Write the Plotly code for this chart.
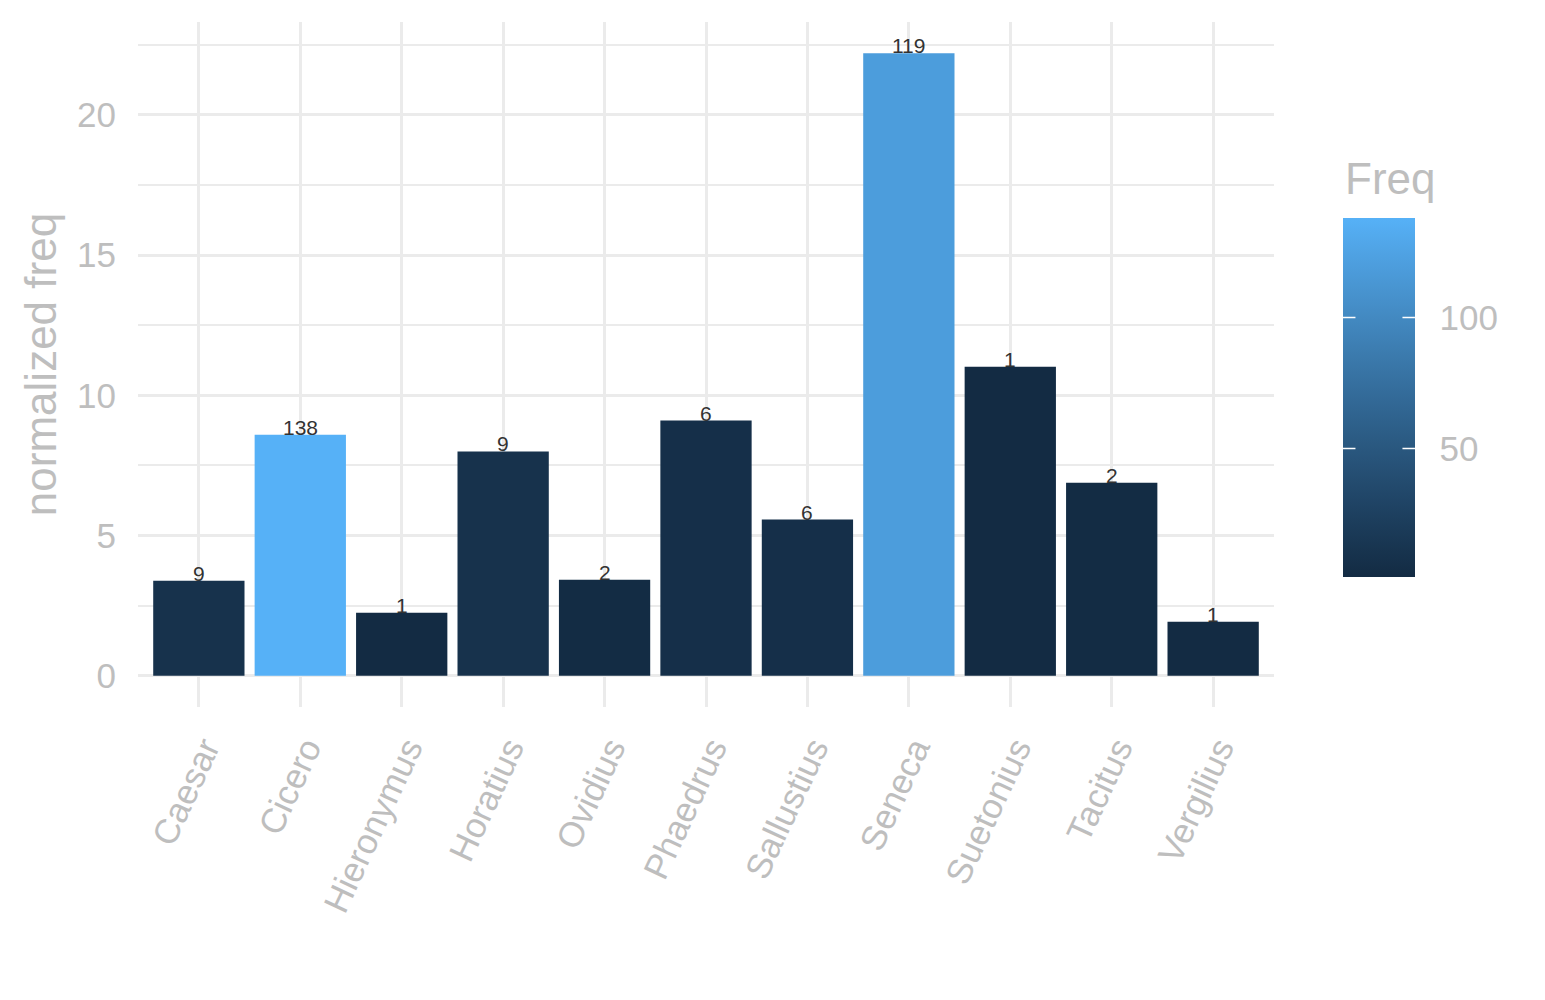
import plotly.graph_objects as go

authors = ['Caesar', 'Cicero', 'Hieronymus', 'Horatius', 'Ovidius', 'Phaedrus',
           'Sallustius', 'Seneca', 'Suetonius', 'Tacitus', 'Vergilius']
norm_freq = [3.39, 8.6, 2.25, 8.0, 3.43, 9.1, 5.57, 22.2, 11.02, 6.88, 1.93]
freq = [9, 138, 1, 9, 2, 6, 6, 119, 1, 2, 1]
cbar_ticks = [50, 100]


# ggplot-like gradient (#132B43 -> #56B1F7) interpolated in Lab space
def _to_lab(h):
    rgb = [int(h[i:i + 2], 16) / 255 for i in (1, 3, 5)]
    lin = [c / 12.92 if c <= 0.04045 else ((c + 0.055) / 1.055) ** 2.4 for c in rgb]
    x = (0.4124 * lin[0] + 0.3576 * lin[1] + 0.1805 * lin[2]) / 0.95047
    y = 0.2126 * lin[0] + 0.7152 * lin[1] + 0.0722 * lin[2]
    z = (0.0193 * lin[0] + 0.1192 * lin[1] + 0.9505 * lin[2]) / 1.08883
    f = lambda t: t ** (1 / 3) if t > 0.008856 else 7.787 * t + 16 / 116
    return (116 * f(y) - 16, 500 * (f(x) - f(y)), 200 * (f(y) - f(z)))


def _to_hex(lab):
    L, a, b = lab
    fy = (L + 16) / 116
    fx, fz = fy + a / 500, fy - b / 200
    g = lambda t: t ** 3 if t ** 3 > 0.008856 else (t - 16 / 116) / 7.787
    x, y, z = g(fx) * 0.95047, g(fy), g(fz) * 1.08883
    r = 3.2406 * x - 1.5372 * y - 0.4986 * z
    gg = -0.9689 * x + 1.8758 * y + 0.0415 * z
    bb = 0.0557 * x - 0.2040 * y + 1.0570 * z
    out = []
    for c in (r, gg, bb):
        c = 12.92 * c if c <= 0.0031308 else 1.055 * c ** (1 / 2.4) - 0.055
        out.append(max(0, min(255, round(c * 255))))
    return '#%02x%02x%02x' % tuple(out)


lo, hi = _to_lab('#132B43'), _to_lab('#56B1F7')
scale = []
for i in range(11):
    t = i / 10
    scale.append([t, _to_hex(tuple(lo[k] + (hi[k] - lo[k]) * t for k in range(3)))])

grey = '#BEBEBE'
grid = '#EBEBEB'
font = 'Liberation Sans, Arial, sans-serif'

plot_w, plot_h = 1136, 685
cb_x, cb_y, cb_len, cb_thick = 1.0607, 0.4518, 359, 72

fig = go.Figure(go.Bar(
    x=authors, y=norm_freq,
    marker=dict(
        color=freq, colorscale=scale, cmin=min(freq), cmax=max(freq),
        line=dict(width=0),
        colorbar=dict(
            tickvals=cbar_ticks, ticks='outside', ticklen=18,
            tickcolor='rgba(0,0,0,0)', tickfont=dict(size=35, color=grey),
            thickness=cb_thick, lenmode='pixels', len=cb_len,
            x=cb_x, xanchor='left', y=cb_y, yanchor='middle',
            outlinewidth=0, ypad=0, xpad=0,
        ),
    ),
))

# white tick marks on both edges of the colour bar (ggplot style)
cb_bottom = cb_y - cb_len / 2 / plot_h
for v in cbar_ticks:
    ty = cb_bottom + (v - min(freq)) / (max(freq) - min(freq)) * cb_len / plot_h
    for side, dx in ((cb_x, 14), (cb_x + cb_thick / plot_w, -14)):
        fig.add_annotation(x=side, y=ty, xref='paper', yref='paper', text='',
                           showarrow=True, arrowhead=0, arrowwidth=1.5,
                           arrowcolor='white', ax=dx, ay=0, standoff=0)

for a, v, f in zip(authors, norm_freq, freq):
    fig.add_annotation(x=a, y=v, text=str(f), showarrow=False, yanchor='bottom',
                       yshift=-6, font=dict(size=21, color='#333333'))

# legend title
fig.add_annotation(x=cb_x, y=0.772, xref='paper', yref='paper', text='Freq',
                   showarrow=False, xanchor='left', yanchor='middle',
                   font=dict(size=44, color=grey))

fig.update_layout(
    width=1545, height=1000,
    margin=dict(l=130, r=279, t=14, b=301),
    plot_bgcolor='white', paper_bgcolor='white',
    font=dict(family=font),
    bargap=0.1, showlegend=False,
)
fig.update_xaxes(
    range=[-0.6, 10.6], showgrid=True, gridcolor=grid, gridwidth=3,
    tickangle=-65, tickfont=dict(size=35, color=grey),
    ticks='outside', ticklen=6, tickcolor='rgba(0,0,0,0)', ticklabelshift=6,
    showline=False, zeroline=False, automargin=False,
)
fig.update_yaxes(
    range=[-1.11, 23.31], dtick=5, tick0=0,
    showgrid=True, gridcolor=grid, gridwidth=3,
    minor=dict(dtick=2.5, tick0=0, showgrid=True, gridcolor=grid, gridwidth=1.5),
    tickfont=dict(size=35, color=grey), ticks='outside', ticklen=14,
    tickcolor='rgba(0,0,0,0)',
    title=dict(text='normalized freq', font=dict(size=44, color=grey), standoff=6),
    showline=False, zeroline=False, automargin=False,
)

fig.write_html('out.html')
